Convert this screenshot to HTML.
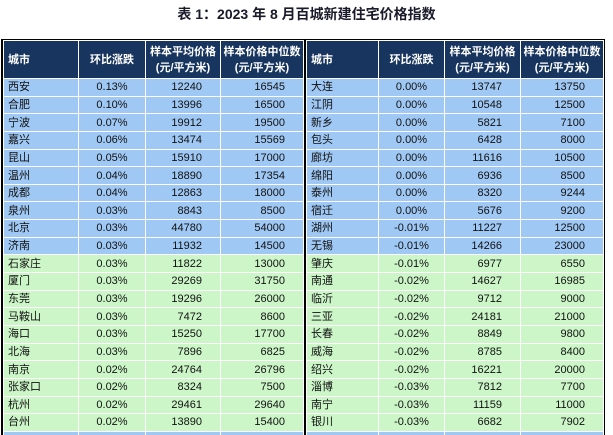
<!DOCTYPE html>
<html><head><meta charset="utf-8"><style>
body{margin:0;width:613px;height:435px;overflow:hidden;background:#fff;font-family:"Liberation Sans","Noto Sans CJK SC",sans-serif;}
.title{position:absolute;left:0;width:613px;top:4px;text-align:center;font-size:14px;font-weight:bold;color:#1a1a2a;}
.wrap{position:absolute;left:1px;top:39px;width:604px;height:396px;background:#000;overflow:hidden;}
table{position:absolute;top:1px;border-collapse:collapse;table-layout:fixed;font-size:11px;}
td{border:1px solid #fff;padding:0;height:16.65px;line-height:14px;color:#111;white-space:nowrap;overflow:hidden;}
tr.h td{height:37px;background:#17355f;color:#fff;font-weight:bold;line-height:16px;border-color:#fff;}
tr.b td{background:#9fc8f4;}
tr.g td{background:#ccf6c8;}
td.c{padding-left:4px;}
td.p{text-align:center;}
td.n{text-align:right;padding-right:18px;}
tr.h td.n{text-align:center;padding-right:0;}
.L{left:2px;} .R{left:305px;}
</style></head><body>
<div class="title">表 1：2023 年 8 月百城新建住宅价格指数</div>
<div class="wrap">
<table class="L"><colgroup><col style="width:75px"><col style="width:67px"><col style="width:75px"><col style="width:83px"></colgroup>
<tr class="h"><td class="c">城市</td><td class="p">环比涨跌</td><td class="n">样本平均价格<br>(元/平方米)</td><td class="n">样本价格中位数<br>(元/平方米)</td></tr>
<tr class="b"><td class="c">西安</td><td class="p">0.13%</td><td class="n">12240</td><td class="n">16545</td></tr>
<tr class="b"><td class="c">合肥</td><td class="p">0.10%</td><td class="n">13996</td><td class="n">16500</td></tr>
<tr class="b"><td class="c">宁波</td><td class="p">0.07%</td><td class="n">19912</td><td class="n">19500</td></tr>
<tr class="b"><td class="c">嘉兴</td><td class="p">0.06%</td><td class="n">13474</td><td class="n">15569</td></tr>
<tr class="b"><td class="c">昆山</td><td class="p">0.05%</td><td class="n">15910</td><td class="n">17000</td></tr>
<tr class="b"><td class="c">温州</td><td class="p">0.04%</td><td class="n">18890</td><td class="n">17354</td></tr>
<tr class="b"><td class="c">成都</td><td class="p">0.04%</td><td class="n">12863</td><td class="n">18000</td></tr>
<tr class="b"><td class="c">泉州</td><td class="p">0.03%</td><td class="n">8843</td><td class="n">8500</td></tr>
<tr class="b"><td class="c">北京</td><td class="p">0.03%</td><td class="n">44780</td><td class="n">54000</td></tr>
<tr class="b"><td class="c">济南</td><td class="p">0.03%</td><td class="n">11932</td><td class="n">14500</td></tr>
<tr class="g"><td class="c">石家庄</td><td class="p">0.03%</td><td class="n">11822</td><td class="n">13000</td></tr>
<tr class="g"><td class="c">厦门</td><td class="p">0.03%</td><td class="n">29269</td><td class="n">31750</td></tr>
<tr class="g"><td class="c">东莞</td><td class="p">0.03%</td><td class="n">19296</td><td class="n">26000</td></tr>
<tr class="g"><td class="c">马鞍山</td><td class="p">0.03%</td><td class="n">7472</td><td class="n">8600</td></tr>
<tr class="g"><td class="c">海口</td><td class="p">0.03%</td><td class="n">15250</td><td class="n">17700</td></tr>
<tr class="g"><td class="c">北海</td><td class="p">0.03%</td><td class="n">7896</td><td class="n">6825</td></tr>
<tr class="g"><td class="c">南京</td><td class="p">0.02%</td><td class="n">24764</td><td class="n">26796</td></tr>
<tr class="g"><td class="c">张家口</td><td class="p">0.02%</td><td class="n">8324</td><td class="n">7500</td></tr>
<tr class="g"><td class="c">杭州</td><td class="p">0.02%</td><td class="n">29461</td><td class="n">29640</td></tr>
<tr class="g"><td class="c">台州</td><td class="p">0.02%</td><td class="n">13890</td><td class="n">15400</td></tr>
<tr class="b"><td></td><td></td><td></td><td></td></tr>
</table>
<table class="R"><colgroup><col style="width:72px"><col style="width:66px"><col style="width:76px"><col style="width:83px"></colgroup>
<tr class="h"><td class="c">城市</td><td class="p">环比涨跌</td><td class="n">样本平均价格<br>(元/平方米)</td><td class="n">样本价格中位数<br>(元/平方米)</td></tr>
<tr class="b"><td class="c">大连</td><td class="p">0.00%</td><td class="n">13747</td><td class="n">13750</td></tr>
<tr class="b"><td class="c">江阴</td><td class="p">0.00%</td><td class="n">10548</td><td class="n">12500</td></tr>
<tr class="b"><td class="c">新乡</td><td class="p">0.00%</td><td class="n">5821</td><td class="n">7100</td></tr>
<tr class="b"><td class="c">包头</td><td class="p">0.00%</td><td class="n">6428</td><td class="n">8000</td></tr>
<tr class="b"><td class="c">廊坊</td><td class="p">0.00%</td><td class="n">11616</td><td class="n">10500</td></tr>
<tr class="b"><td class="c">绵阳</td><td class="p">0.00%</td><td class="n">6936</td><td class="n">8500</td></tr>
<tr class="b"><td class="c">泰州</td><td class="p">0.00%</td><td class="n">8320</td><td class="n">9244</td></tr>
<tr class="b"><td class="c">宿迁</td><td class="p">0.00%</td><td class="n">5676</td><td class="n">9200</td></tr>
<tr class="b"><td class="c">湖州</td><td class="p">-0.01%</td><td class="n">11227</td><td class="n">12500</td></tr>
<tr class="b"><td class="c">无锡</td><td class="p">-0.01%</td><td class="n">14266</td><td class="n">23000</td></tr>
<tr class="g"><td class="c">肇庆</td><td class="p">-0.01%</td><td class="n">6977</td><td class="n">6550</td></tr>
<tr class="g"><td class="c">南通</td><td class="p">-0.02%</td><td class="n">14627</td><td class="n">16985</td></tr>
<tr class="g"><td class="c">临沂</td><td class="p">-0.02%</td><td class="n">9712</td><td class="n">9000</td></tr>
<tr class="g"><td class="c">三亚</td><td class="p">-0.02%</td><td class="n">24181</td><td class="n">21000</td></tr>
<tr class="g"><td class="c">长春</td><td class="p">-0.02%</td><td class="n">8849</td><td class="n">9800</td></tr>
<tr class="g"><td class="c">威海</td><td class="p">-0.02%</td><td class="n">8785</td><td class="n">8400</td></tr>
<tr class="g"><td class="c">绍兴</td><td class="p">-0.02%</td><td class="n">16221</td><td class="n">20000</td></tr>
<tr class="g"><td class="c">淄博</td><td class="p">-0.03%</td><td class="n">7812</td><td class="n">7700</td></tr>
<tr class="g"><td class="c">南宁</td><td class="p">-0.03%</td><td class="n">11159</td><td class="n">11000</td></tr>
<tr class="g"><td class="c">银川</td><td class="p">-0.03%</td><td class="n">6682</td><td class="n">7902</td></tr>
<tr class="b"><td></td><td></td><td></td><td></td></tr>
</table>
</div>
</body></html>
